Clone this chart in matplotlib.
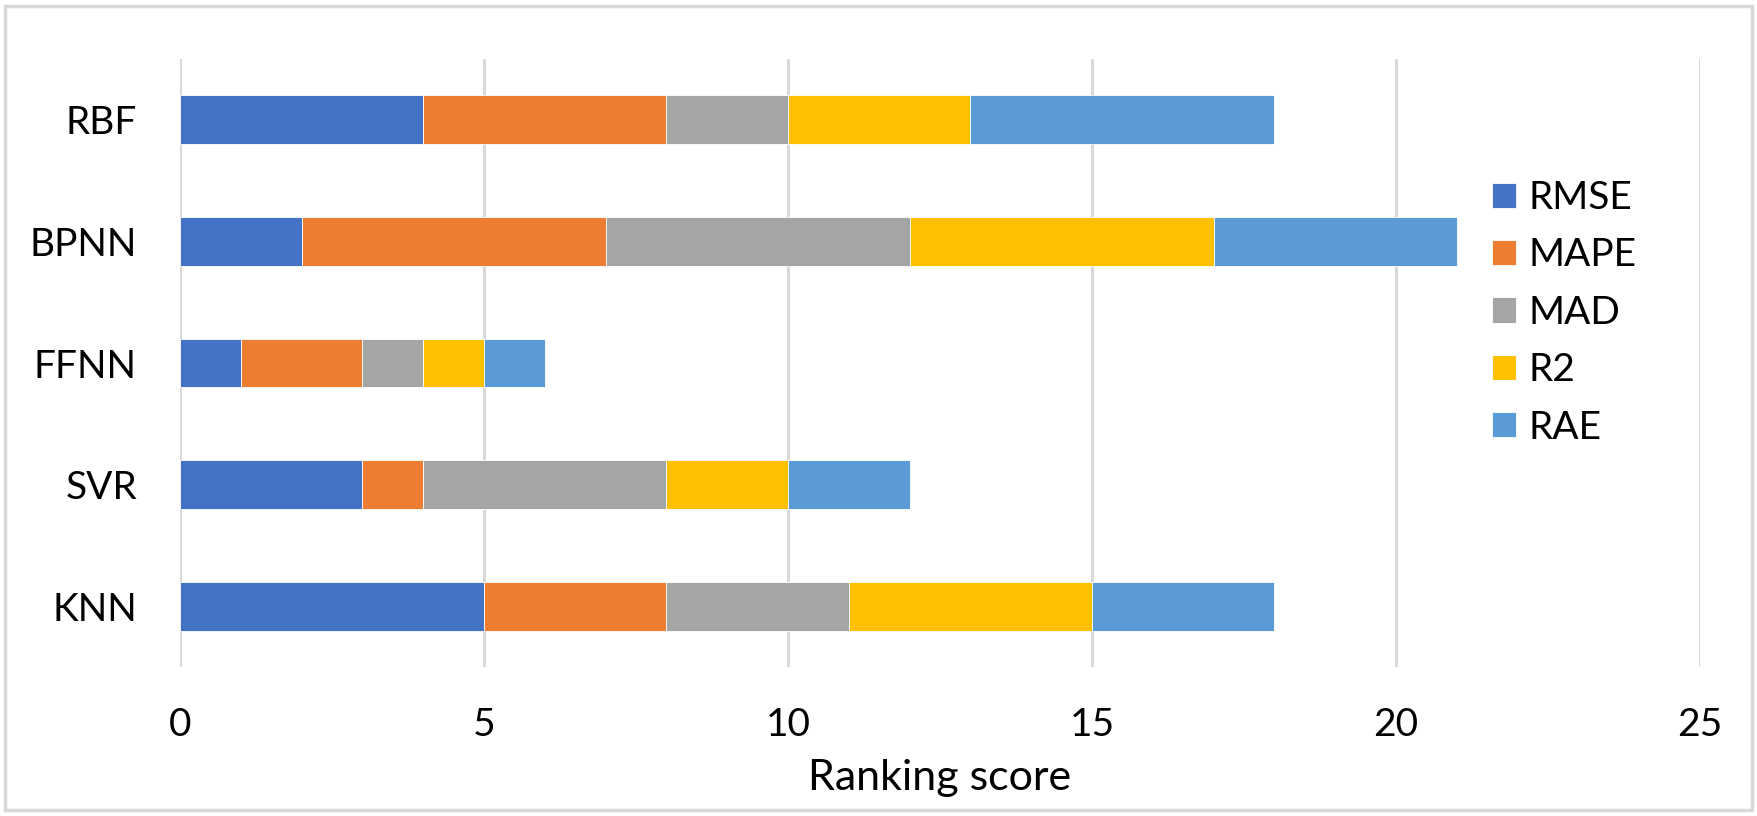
import matplotlib.pyplot as plt
from matplotlib.patches import Rectangle
import numpy as np

# models from bottom to top (excel draws the first category at the bottom)
models = ["KNN", "SVR", "FFNN", "BPNN", "RBF"]

# ranking scores for each metric
rmse = [5, 3, 1, 2, 4]
mape = [3, 1, 2, 5, 4]
mad = [3, 4, 1, 5, 2]
r2 = [4, 2, 1, 5, 3]
rae = [3, 2, 1, 4, 5]

metric_names = ["RMSE", "MAPE", "MAD", "R2", "RAE"]
colors = ["#4472C4", "#ED7D31", "#A5A5A5", "#FFC000", "#5B9BD5"]

xticks = [0, 5, 10, 15, 20, 25]

plt.rcParams['font.family'] = ['Lato', 'DejaVu Sans']

W, H = 1757, 816
fig = plt.figure(figsize=(W / 100, H / 100), dpi=100)
ax = fig.add_axes([180 / W, (H - 667) / H, 1520 / W, 608 / H])

# stacked horizontal bars
y = np.arange(len(models))
left = np.zeros(len(models))
for name, vals, c in zip(metric_names, [rmse, mape, mad, r2, rae], colors):
    ax.barh(y, vals, left=left, height=0.4, color=c, label=name,
            edgecolor="#FFFFFF", linewidth=0.6)
    left += np.array(vals)

ax.set_xlim(0, 25)
ax.set_ylim(-0.5, len(models) - 0.5)
ax.set_xticks(xticks)
ax.set_xticklabels([str(t) for t in xticks])
ax.set_yticks(y)
ax.set_yticklabels(models)

# only vertical grid lines, behind the bars
ax.set_axisbelow(True)
ax.xaxis.grid(True, color="#D9D9D9", linewidth=2.2)
for s in ax.spines.values():
    s.set_visible(False)
ax.tick_params(axis='x', length=0, pad=29, labelsize=28, labelcolor="black")
ax.tick_params(axis='y', length=0, pad=31, labelsize=28, labelcolor="black")

fig.text((180 + 1700) / 2 / W, (H - 790) / H, "Ranking score", ha='center',
         va='baseline', fontsize=31)

# legend sits in the empty space right of the bars
ax.legend(loc='upper left', bbox_to_anchor=(1492 / W, 1 - 180 / H),
          bbox_transform=fig.transFigure, frameon=False, fontsize=28,
          handlelength=0.62, handleheight=0.62, handletextpad=0.31,
          labelspacing=0.55, borderpad=0, borderaxespad=0)

# light gray border round the whole chart
fig.patches.append(Rectangle((5 / W, 6 / H), (W - 10) / W, (H - 12) / H,
                             transform=fig.transFigure, fill=False,
                             edgecolor="#D9D9D9", linewidth=2.5))

fig.savefig("out.png", dpi=100, facecolor="white")
